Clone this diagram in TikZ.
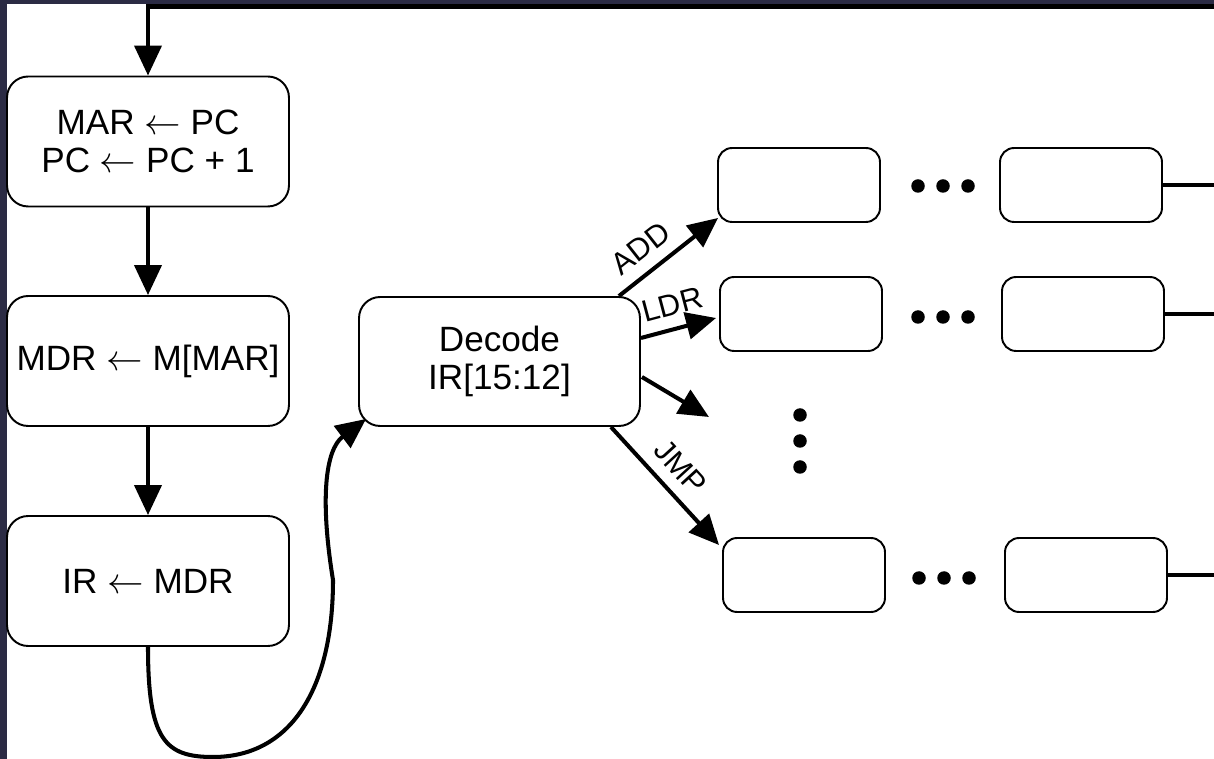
\documentclass[tikz,border=0pt]{standalone}
\usepackage{fontspec}
\setmainfont{Liberation Sans}
\usetikzlibrary{arrows.meta,calc}
\definecolor{navy}{RGB}{43,43,68}
\begin{document}
\begin{tikzpicture}[x=0.02cm,y=-0.02cm,
  box/.style={draw, line width=1.1pt, rounded corners=12pt, inner sep=0pt, align=center,
    font=\fontsize{20}{21.6}\selectfont},
  big/.style={box, minimum width=5.64cm, minimum height=2.6cm},
  small/.style={draw, line width=1.1pt, rounded corners=8pt, minimum width=3.24cm,
    minimum height=1.48cm, inner sep=0pt},
  conn/.style={line width=2.3pt},
  arr/.style={conn, -{Triangle[length=0.6cm,width=0.54cm]}},
  lbl/.style={font=\fontsize{17.5}{19}\selectfont, inner sep=6.5pt, sloped, above},
  dot/.style={circle, fill, inner sep=0pt, minimum size=0.27cm}]
\fill[navy] (0,0) rectangle (1214,759);
\fill[white] (7,4) rectangle (1214,759);
\useasboundingbox (0,0) rectangle (1214,759);

% left column
\node[big] (b1) at (148,141.5) {MAR $\leftarrow$ PC\\PC $\leftarrow$ PC + 1};
\node[big] (b2) at (148,361) {MDR $\leftarrow$ M[MAR]};
\node[big] (b3) at (148,581) {IR $\leftarrow$ MDR};
\node[big, minimum width=5.62cm, minimum height=2.58cm] (dec) at (499.5,361.5) {Decode\\IR[15:12]};

% right boxes
\node[small] (A1) at (799,185) {};
\node[small] (B1) at (1081,185) {};
\node[small] (A2) at (801,314) {};
\node[small] (B2) at (1083,314) {};
\node[small] (A3) at (804,575) {};
\node[small] (B3) at (1086,575) {};

% dots
\node[dot] (h1a) at (918,186) {};
\node[dot] (h1b) at (943,186) {};
\node[dot] (h1c) at (968,186) {};
\node[dot] (h2a) at (918,317) {};
\node[dot] (h2b) at (943,317) {};
\node[dot] (h2c) at (968,317) {};
\node[dot] (h3a) at (919,578) {};
\node[dot] (h3b) at (944,578) {};
\node[dot] (h3c) at (969,578) {};
\node[dot] (v1) at (800,415) {};
\node[dot] (v2) at (800,441) {};
\node[dot] (v3) at (800,467) {};

% connectors
\coordinate (topR) at (1216,6.5);
\coordinate (redge) at (1216,0);
\draw[arr] (topR) -| (b1.north);
\draw[arr] (b1.south) -- (b2.north);
\draw[arr] (b2.south) -- (b3.north);
\draw[arr] (b3.south) .. controls (148,740) and (165,757) .. (213,757)
  .. controls (290,757) and (333,690) .. (333,580)
  .. controls (320,500) and (325,450) .. ($(dec.south west)+(8,-8)$);

\draw[arr] ($(dec.north east)+(-22,0)$) -- node[lbl, pos=0.37] {ADD} ($(A1.south west)+(1,-5)$);
\draw[arr] ($(dec.east)+(0,-23.5)$) -- node[lbl, pos=0.5] {LDR} ($(A2.west)+(-3,4)$);
\coordinate (mid) at (709,417);
\draw[arr] ($(dec.east)+(1,15.5)$) -- (mid);
\draw[arr] ($(dec.south east)+(-30,0)$) -- node[lbl, pos=0.48] {JMP} ($(A3.north west)+(-3,8)$);

\draw[conn] (B1.east) -- (B1.east -| redge);
\draw[conn] (B2.east) -- (B2.east -| redge);
\draw[conn] (B3.east) -- (B3.east -| redge);
\end{tikzpicture}
\end{document}
